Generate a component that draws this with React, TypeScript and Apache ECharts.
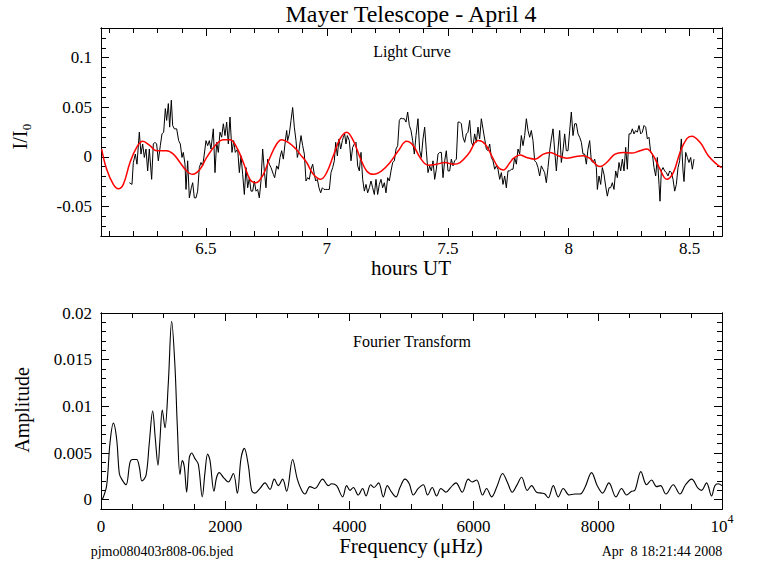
import React, { useEffect, useRef } from "react";
import * as echarts from "echarts";

// ---------- Light curve (hours UT, relative intensity) ----------
const lcTime = [
  6.1829, 6.1939, 6.1994, 6.2077, 6.2146, 6.2242, 6.2311, 6.238, 6.2449, 6.2518, 6.2587, 6.2656, 6.2752, 6.2821, 6.289, 6.2959,
  6.3028, 6.3111, 6.318, 6.3249, 6.3318, 6.3373, 6.3442, 6.3497, 6.3566, 6.3621, 6.369, 6.3787, 6.3869, 6.3938, 6.4007, 6.4062,
  6.4131, 6.4173, 6.4242, 6.4311, 6.4393, 6.4449, 6.4518, 6.4586, 6.4655, 6.4724, 6.4793, 6.4862, 6.4931, 6.5, 6.5069, 6.5138,
  6.5207, 6.5303, 6.5372, 6.5441, 6.551, 6.5579, 6.5648, 6.5717, 6.5786, 6.5855, 6.5924, 6.5993, 6.6075, 6.6144, 6.6213, 6.631,
  6.6379, 6.6448, 6.6517, 6.6586, 6.6655, 6.6724, 6.6793, 6.6862, 6.6931, 6.6999, 6.7068, 6.7137, 6.7206, 6.7275, 6.7344, 6.7413,
  6.7482, 6.7551, 6.762, 6.7689,
  6.7785, 6.784, 6.7923, 6.7992, 6.8061, 6.813, 6.8199, 6.8268, 6.8337, 6.8378, 6.8447, 6.8516, 6.8585, 6.8654, 6.8723, 6.8778,
  6.8847, 6.893, 6.8999, 6.9068, 6.9137, 6.9206, 6.9274, 6.9343, 6.9412, 6.9481, 6.9536, 6.9605, 6.9674, 6.9743, 6.9812, 6.9881,
  6.995, 7.0019, 7.0102, 7.0171, 7.024, 7.0309, 7.0364, 7.0433, 7.0502, 7.0571, 7.064, 7.0681, 7.0736, 7.0791, 7.0846, 7.0929,
  7.0998, 7.1067, 7.1136, 7.1205, 7.1274, 7.1343, 7.1412, 7.1481, 7.155, 7.1619, 7.1687, 7.1756, 7.1825, 7.1894, 7.1963, 7.2032,
  7.2101, 7.217, 7.2239, 7.2308, 7.2377, 7.2446, 7.2515, 7.2584, 7.2653, 7.2722, 7.2791, 7.286, 7.2929, 7.2997, 7.3066, 7.3135,
  7.3204, 7.3273, 7.3342, 7.3411, 7.348, 7.3549, 7.3618, 7.3687,
  7.3769, 7.3838, 7.3907, 7.3976, 7.4045, 7.4114, 7.4183, 7.4252, 7.4321, 7.439, 7.4459, 7.4528, 7.4597, 7.4666, 7.4735, 7.4804,
  7.4873, 7.4941, 7.501, 7.5079, 7.5148, 7.5217, 7.5286, 7.5355, 7.5424, 7.5493, 7.5562, 7.5631, 7.57, 7.5769, 7.5838, 7.5907,
  7.5976, 7.6045, 7.6113, 7.6182, 7.6251, 7.632, 7.6389, 7.6458, 7.6527, 7.6596, 7.6665, 7.6734, 7.6803, 7.6872, 7.6941, 7.701,
  7.7079, 7.7148, 7.7217, 7.7285, 7.7354, 7.7423, 7.7492, 7.7561, 7.763, 7.7699, 7.7768, 7.7837, 7.7906, 7.7975, 7.8044, 7.8113,
  7.8182, 7.8251, 7.832, 7.8389, 7.8457, 7.8526, 7.8595, 7.8664, 7.8733, 7.8802, 7.8871, 7.894, 7.9009, 7.9078, 7.9147, 7.9216,
  7.9285, 7.9354, 7.9423, 7.9492, 7.9561, 7.9629,
  7.9698, 7.9767, 7.9836, 7.9905, 7.9974, 8.0043, 8.0112, 8.0181, 8.025, 8.0319, 8.0388, 8.0457, 8.0526, 8.0595, 8.0664, 8.0733,
  8.0801, 8.087, 8.0939, 8.1008, 8.1077, 8.1146, 8.1188, 8.1257, 8.1326, 8.1394, 8.1463, 8.1532, 8.1601, 8.167, 8.1739, 8.1808,
  8.1877, 8.1946, 8.2015, 8.2084, 8.2153, 8.2222, 8.2291, 8.236, 8.2429, 8.2498, 8.2567, 8.2635, 8.2704, 8.2773, 8.2842, 8.2911,
  8.298, 8.3049, 8.3118, 8.3187, 8.3256, 8.3325, 8.3394, 8.3463, 8.3532, 8.3601, 8.367, 8.3739, 8.378, 8.3835, 8.3904, 8.3973,
  8.4042, 8.4111, 8.418, 8.4249, 8.4318, 8.4387, 8.4456, 8.4525, 8.4593, 8.4662, 8.4731, 8.4773, 8.4842, 8.491, 8.4979, 8.5048,
  8.5117, 8.5186,
];
const lcFlux = [
  -0.0262, -0.0279, -0.0058, 0.0027, -0.0075, 0.0248, 0.0027, 0.0129, -0.0007, 0.0078, -0.0143, 0.0078, -0.0228, 0.0129, 0.0146, 0.0129,
  -0.0041, 0.0112, 0.0231, 0.0248, 0.0486, 0.0367, 0.0537, 0.0299, 0.0571, 0.0316, 0.0282, 0.0282, 0.0163, 0.0129, -0.0007, 0.0044,
  -0.0075, -0.033, -0.0041, -0.0415, -0.0313, -0.0262, -0.0415, -0.0415, -0.0347, -0.0109, -0.0058, -0.0092, 0.0027, 0.0163, 0.0112, 0.0163,
  0.0078, 0.0282, -0.016, 0.0146, 0.0044, 0.0248, 0.0197, 0.0333, 0.0214, 0.035, 0.0129, 0.0401, 0.0044, 0.0163, 0.0044, 0.0078,
  -0.016, 0.001, -0.0177, -0.0381, -0.0109, -0.0313, -0.0211, -0.0347, -0.0347, -0.0245, -0.0347, -0.033, -0.0415, -0.0245, 0.0078, -0.0143,
  -0.0313, -0.0024, -0.0075, -0.0109,
  -0.0177, -0.0211, -0.0092, -0.0126, -0.0007, 0.0061, -0.0024, 0.0129, 0.0265, 0.0163, 0.0231, 0.0367, 0.0497, 0.0299, 0.0163, -0.0007,
  0.0061, 0.0214, 0.0112, 0.0027, -0.0245, -0.0211, -0.0228, -0.0126, -0.0075, -0.0177, -0.0245, -0.0228, -0.0313, -0.0364, -0.0313, -0.033,
  -0.033, -0.033, -0.033, -0.016, -0.0109, -0.0041, 0.0146, 0.001, 0.018, 0.0078, 0.0163, 0.0197, 0.0231, 0.0129, 0.0214, 0.0163,
  -0.0041, 0.0095, 0.0129, 0.0146, -0.0092, -0.0143, 0.0044, -0.0228, -0.0347, -0.0279, -0.0364, -0.0313, -0.0245, -0.0313, -0.0381, -0.0228,
  -0.0381, -0.0279, -0.0228, -0.0313, -0.0262, -0.0364, -0.0211, -0.0245, -0.0143, -0.0058, -0.0041, 0.0078, 0.0112, 0.0367, 0.0391, 0.0384,
  0.0384, 0.035, 0.0452, 0.0316, 0.0265, 0.0163, 0.0027, 0.0214,
  0.0384, 0.0061, -0.0007, 0.018, 0.0299, 0.0061, -0.016, -0.0092, -0.0143, -0.0041, -0.0228, -0.0126, 0.0027, 0.0044, 0.0044, -0.0211,
  -0.0041, 0.0061, -0.0143, -0.0143, -0.0024, -0.0092, -0.0041, -0.0024, 0.035, 0.035, 0.0333, 0.0197, 0.0146, 0.0231, 0.0248, 0.0367,
  0.0146, 0.0112, 0.0231, 0.0146, 0.0299, 0.018, 0.0384, 0.0282, 0.018, 0.0078, 0.0061, 0.0129, -0.0007, -0.0041, -0.0126, -0.0092,
  -0.0126, -0.0228, -0.016, -0.0279, -0.0194, -0.0313, -0.0143, -0.0143, -0.0126, -0.0126, -0.0007, -0.0075, 0.0078, 0.0027, 0.0214, 0.0112,
  0.0214, 0.0384, 0.0265, 0.0197, 0.0265, 0.0163, -0.0041, -0.0058, -0.0109, -0.0194, -0.0092, -0.0126, -0.016, -0.0262, -0.0109, 0.0061,
  0.018, 0.0282, 0.0061, -0.0143, 0.0078, 0.0265,
  -0.0058, 0.0061, 0.0231, 0.0061, 0.0061, 0.0265, 0.0452, 0.0214, 0.0333, 0.0333, 0.0231, 0.0197, 0.0146, 0.0027, 0.0027, -0.0075,
  0.0078, 0.0163, -0.0041, -0.0058, -0.0024, -0.0109, -0.033, -0.0194, -0.0279, -0.0109, -0.0177, -0.0296, -0.0398, -0.0313, -0.0313, -0.0262,
  -0.033, -0.0143, -0.0211, -0.0058, -0.0143, -0.0024, -0.0143, 0.0095, -0.0126, 0.0231, 0.0231, 0.0282, 0.0231, 0.0265, 0.0248, 0.0316,
  0.0231, 0.0248, 0.0316, 0.0299, 0.018, 0.0197, 0.0044, 0.0027, -0.0109, -0.0194, -0.0007, -0.0279, -0.0449, -0.0143, -0.0109, -0.0143,
  -0.016, -0.0194, -0.0143, -0.016, -0.0228, -0.0347, -0.0279, -0.0109, -0.0041, 0.018, -0.0143, -0.025, 0.0044, -0.0007, -0.0058, -0.0007,
  -0.0126, -0.0024,
];

// ---------- Fitted curve (red) ----------
const fitTime = [
  6.0684, 6.0891, 6.1167, 6.1374, 6.158, 6.1856, 6.2132, 6.238, 6.2684, 6.2959, 6.3373, 6.3649, 6.3925, 6.42, 6.4449, 6.4752,
  6.5028, 6.5372, 6.5717, 6.5993, 6.6269, 6.6544, 6.682, 6.7068, 6.7372, 6.7647, 6.7923, 6.813, 6.8406, 6.875, 6.8888, 6.9164,
  6.944, 6.9743, 6.9991, 7.0267, 7.0543, 7.0819, 7.1094, 7.137, 7.1646, 7.1922, 7.2266, 7.2611, 7.2956, 7.33, 7.3576, 7.3852,
  7.4197, 7.4541, 7.4886, 7.5231, 7.5507, 7.5851, 7.6265, 7.6541, 7.6817, 7.7092, 7.7299, 7.7575, 7.7713, 7.7989, 7.8264, 7.8609,
  7.8954, 7.923, 7.9574, 7.9919, 8.0264, 8.0608, 8.0884, 8.116, 8.1298, 8.1574, 8.1918, 8.2263, 8.2608, 8.2952, 8.3228, 8.3504,
  8.378, 8.4056, 8.4331, 8.4607, 8.4883, 8.509, 8.5434, 8.5779, 8.6124, 8.633,
];
const fitFlux = [
  0.0078, -0.0126, -0.0279, -0.0323, -0.0279, -0.0058, 0.0095, 0.0156, 0.0112, 0.0061, 0.0061, 0.0027, -0.0058, -0.0143, -0.0177, -0.0126,
  -0.0007, 0.0112, 0.0173, 0.0173, 0.0095, -0.0058, -0.0228, -0.0262, -0.0177, -0.0007, 0.0129, 0.0173, 0.0146, 0.0071, 0.0027, -0.0058,
  -0.0177, -0.0228, -0.016, 0.001, 0.018, 0.0248, 0.0163, -0.0007, -0.0143, -0.0177, -0.0143, -0.0058, 0.0061, 0.0156, 0.0112, -0.0007,
  -0.0085, -0.0075, -0.0058, -0.0075, -0.0058, 0.0027, 0.0163, 0.0129, 0.001, -0.0109, -0.0133, -0.0058, -0.0017, 0.0017, -0.0007, -0.0024,
  0.0027, 0.0044, 0.001, -0.0014, 0.0, 0.001, -0.0017, -0.0085, -0.0099, -0.0058, 0.0027, 0.0044, 0.0037, 0.0061, 0.0078, 0.001,
  -0.0126, -0.0228, -0.016, 0.0044, 0.018, 0.0207, 0.0146, 0.001, -0.0075, -0.0109,
];

// ---------- Fourier transform (µHz, amplitude) ----------
const fftFreq = [
  0, 27, 91, 145, 199, 252, 295, 333, 403, 467, 510, 574, 617, 660, 725, 778, 832, 875, 918, 950, 987, 1030, 1084, 1138, 1191, 1229,
  1272, 1309, 1342, 1379, 1422, 1460, 1513, 1567, 1631, 1674, 1717, 1755, 1819, 1862, 1905, 1970, 2050, 2131, 2195, 2254, 2308, 2372,
  2426, 2479, 2560, 2640, 2721, 2791, 2855, 2925, 2989, 3086, 3161, 3231, 3284, 3365, 3445, 3569, 3660, 3714, 3794, 3891, 3955, 4009,
  4063, 4143, 4213, 4267, 4342, 4395, 4470, 4546, 4610, 4680, 4750, 4814, 4894, 4964, 5029, 5109, 5190, 5259, 5334, 5404, 5474, 5555,
  5630, 5716, 5817, 5914, 5978, 6048, 6145, 6209, 6290, 6381, 6467, 6542, 6622, 6692, 6773, 6864, 6934, 7014, 7095, 7148, 7202, 7283,
  7363, 7444, 7540, 7631, 7712, 7792, 7900, 7991, 8077, 8179, 8292, 8383, 8463, 8544, 8597, 8694, 8785, 8866, 8946, 9011, 9097, 9215,
  9322, 9413, 9510, 9617, 9671, 9751, 9832, 9885, 9939, 10000,
];
const fftAmp = [
  0, 0.0001, 0.0015, 0.0061, 0.0082, 0.0065, 0.0028, 0.0022, 0.0016, 0.004, 0.0043, 0.0043, 0.0035, 0.002, 0.0026, 0.0061, 0.0095, 0.0065,
  0.0037, 0.0065, 0.0096, 0.0077, 0.0125, 0.0191, 0.0143, 0.0079, 0.0027, 0.0042, 0.0035, 0.0008, 0.0045, 0.005, 0.0044, 0.0038, 0.0003,
  0.0029, 0.0049, 0.0042, 0.0009, 0.0024, 0.0029, 0.0024, 0.0019, 0.0028, 0.0007, 0.0044, 0.0055, 0.0037, 0.001, 0.0007, 0.0012, 0.0018,
  0.0011, 0.0022, 0.0015, 0.0022, 0.0009, 0.0043, 0.0022, 0.001, 0.0006, 0.0014, 0.0012, 0.0022, 0.0015, 0.0017, 0.0015, 0.0003, 0.0015,
  0.001, 0.0013, 0.0005, 0.0012, 0.0004, 0.0016, 0.0013, 0.0018, 0.0003, 0.0015, 0.0008, 0.0003, 0.0013, 0.0022, 0.0017, 0.0005, 0.0012,
  0.0016, 0.0005, 0.0013, 0.0004, 0.0012, 0.0008, 0.0013, 0.0018, 0.0008, 0.0022, 0.0019, 0.0021, 0.0005, 0.0012, 0.0003, 0.0015, 0.0028,
  0.0019, 0.0008, 0.0015, 0.0024, 0.001, 0.0015, 0.0008, 0.0007, 0.0006, 0.0002, 0.0015, 0.0003, 0.0012, 0.0005, 0.0006, 0.0006, 0.0013,
  0.0029, 0.0015, 0.0007, 0.0018, 0.0003, 0.0012, 0.0005, 0.0009, 0.001, 0.003, 0.0016, 0.0021, 0.0014, 0.0015, 0.0006, 0.0016, 0.0006,
  0.0016, 0.0022, 0.0012, 0.001, 0.0018, 0.0004, 0.0015, 0.0017, 0.0015,
];

// ---------- Axis ticks ----------
const lcRangeX = [6.0657, 8.6344];
const lcRangeY = [-0.08, 0.13];
const lcMajorX = [6.5, 7, 7.5, 8, 8.5];
const lcMajorY = [-0.05, 0, 0.05, 0.1];
const ftRangeX = [0, 10000];
const ftRangeY = [-0.001, 0.02];
const ftMajorX = [0, 2000, 4000, 6000, 8000, 10000];
const ftMajorY = [0, 0.005, 0.01, 0.015, 0.02];

const steps = (from: number, to: number, div: number) => {
  const out: number[] = [];
  for (let i = from; i <= to; i++) out.push(i / div);
  return out;
};
const lcMinorX = steps(61, 86, 10);
const lcMinorY = steps(-7, 12, 100);
const ftMinorX = steps(1, 19, 0.002); // 500 .. 9500
const ftMinorY = steps(1, 19, 1000);

const SERIF = "Liberation Serif";

function axis(
  gridIndex: number,
  position: string,
  range: number[],
  ticks: number[],
  len: number,
  label?: any
) {
  return {
    type: "value",
    gridIndex,
    position,
    min: range[0],
    max: range[1],
    axisLine: { show: true, onZero: false, lineStyle: { color: "#000", width: 1 } },
    axisTick: {
      show: true,
      inside: true,
      length: len,
      customValues: ticks,
      lineStyle: { color: "#000", width: 1 },
    },
    axisLabel: label
      ? {
          show: true,
          customValues: ticks,
          showMinLabel: true,
          showMaxLabel: true,
          hideOverlap: false,
          color: "#000",
          fontFamily: SERIF,
          fontSize: 17,
          ...label,
        }
      : { show: false },
    splitLine: { show: false },
    minorTick: { show: false },
  };
}

const MAJ = 8;
const MIN = 5;

export default function App() {
  const ref = useRef<HTMLDivElement>(null);
  useEffect(() => {
    if (!ref.current) return;
    const chart = echarts.init(ref.current, undefined, { renderer: "svg" });
    const num = (v: number) => String(v);
    const option: any = {
      animation: false,
      backgroundColor: "#fff",
      textStyle: { fontFamily: SERIF, color: "#000" },
      grid: [
        { left: 101, top: 28, width: 621, height: 208, outerBoundsMode: "none", containLabel: false },
        { left: 101, top: 313, width: 621, height: 196, outerBoundsMode: "none", containLabel: false },
      ],
      xAxis: [
        axis(0, "bottom", lcRangeX, lcMajorX, MAJ, { margin: 4, formatter: num }),
        axis(0, "bottom", lcRangeX, lcMinorX, MIN),
        axis(0, "top", lcRangeX, lcMajorX, MAJ),
        axis(0, "top", lcRangeX, lcMinorX, MIN),
        axis(1, "bottom", ftRangeX, ftMajorX, MAJ, {
          margin: 4,
          formatter: (v: number) => (v === 10000 ? "{a|10}{b|4}" : "{a|" + String(v) + "}"),
          rich: {
            a: { fontFamily: SERIF, fontSize: 17, color: "#000", lineHeight: 22, verticalAlign: "bottom" },
            b: { fontFamily: SERIF, fontSize: 12, color: "#000", lineHeight: 22, verticalAlign: "top" },
          },
        }),
        axis(1, "bottom", ftRangeX, ftMinorX, MIN),
        axis(1, "top", ftRangeX, ftMajorX, MAJ),
        axis(1, "top", ftRangeX, ftMinorX, MIN),
      ],
      yAxis: [
        axis(0, "left", lcRangeY, lcMajorY, MAJ, { margin: 9, formatter: num }),
        axis(0, "left", lcRangeY, lcMinorY, MIN),
        axis(0, "right", lcRangeY, lcMajorY, MAJ),
        axis(0, "right", lcRangeY, lcMinorY, MIN),
        axis(1, "left", ftRangeY, ftMajorY, MAJ, { margin: 9, formatter: num }),
        axis(1, "left", ftRangeY, ftMinorY, MIN),
        axis(1, "right", ftRangeY, ftMajorY, MAJ),
        axis(1, "right", ftRangeY, ftMinorY, MIN),
      ],
      series: [
        {
          type: "line",
          xAxisIndex: 0,
          yAxisIndex: 0,
          data: lcTime.map((t, i) => [t, lcFlux[i]]),
          showSymbol: false,
          symbol: "none",
          lineStyle: { color: "#000", width: 1 },
          z: 2,
        },
        {
          type: "line",
          xAxisIndex: 0,
          yAxisIndex: 0,
          data: fitTime.map((t, i) => [t, fitFlux[i]]),
          showSymbol: false,
          symbol: "none",
          smooth: 0.4,
          lineStyle: { color: "#ff0000", width: 1.5 },
          z: 3,
        },
        {
          type: "line",
          xAxisIndex: 4,
          yAxisIndex: 4,
          data: fftFreq.map((f, i) => [f, fftAmp[i]]),
          showSymbol: false,
          symbol: "none",
          smooth: 0.35,
          lineStyle: { color: "#000", width: 1.1 },
          z: 2,
        },
      ],
      graphic: {
        elements: [
          {
            type: "text", x: 411, y: 14,
            style: { text: "Mayer Telescope - April 4", fill: "#000", fontFamily: SERIF, fontSize: 24, align: "center", verticalAlign: "middle" },
          },
          {
            type: "text", x: 412, y: 51,
            style: { text: "Light Curve", fill: "#000", fontFamily: SERIF, fontSize: 16, align: "center", verticalAlign: "middle" },
          },
          {
            type: "text", x: 411, y: 268,
            style: { text: "hours UT", fill: "#000", fontFamily: SERIF, fontSize: 21, align: "center", verticalAlign: "middle" },
          },
          {
            type: "text", x: 20, y: 140, rotation: Math.PI / 2,
            style: { text: "I/I", fill: "#000", fontFamily: SERIF, fontSize: 20, align: "center", verticalAlign: "middle" },
          },
          {
            type: "text", x: 26, y: 127, rotation: Math.PI / 2,
            style: { text: "0", fill: "#000", fontFamily: SERIF, fontSize: 13, align: "center", verticalAlign: "middle" },
          },
          {
            type: "text", x: 412, y: 341,
            style: { text: "Fourier Transform", fill: "#000", fontFamily: SERIF, fontSize: 16, align: "center", verticalAlign: "middle" },
          },
          {
            type: "text", x: 22, y: 410, rotation: Math.PI / 2,
            style: { text: "Amplitude", fill: "#000", fontFamily: SERIF, fontSize: 20, align: "center", verticalAlign: "middle" },
          },
          {
            type: "text", x: 411, y: 546,
            style: { text: "Frequency (μHz)", fill: "#000", fontFamily: SERIF, fontSize: 21, align: "center", verticalAlign: "middle" },
          },
          {
            type: "text", x: 162, y: 551,
            style: { text: "pjmo080403r808-06.bjed", fill: "#000", fontFamily: SERIF, fontSize: 14, align: "center", verticalAlign: "middle" },
          },
          {
            type: "text", x: 662, y: 551,
            style: { text: "Apr  8 18:21:44 2008", fill: "#000", fontFamily: SERIF, fontSize: 14, align: "center", verticalAlign: "middle" },
          },
        ],
      },
    };
    chart.setOption(option);
    return () => chart.dispose();
  }, []);
  return (
    <div
      ref={ref}
      style={{ position: "absolute", left: 0, top: 0, width: 768, height: 574, background: "#fff" }}
    />
  );
}
